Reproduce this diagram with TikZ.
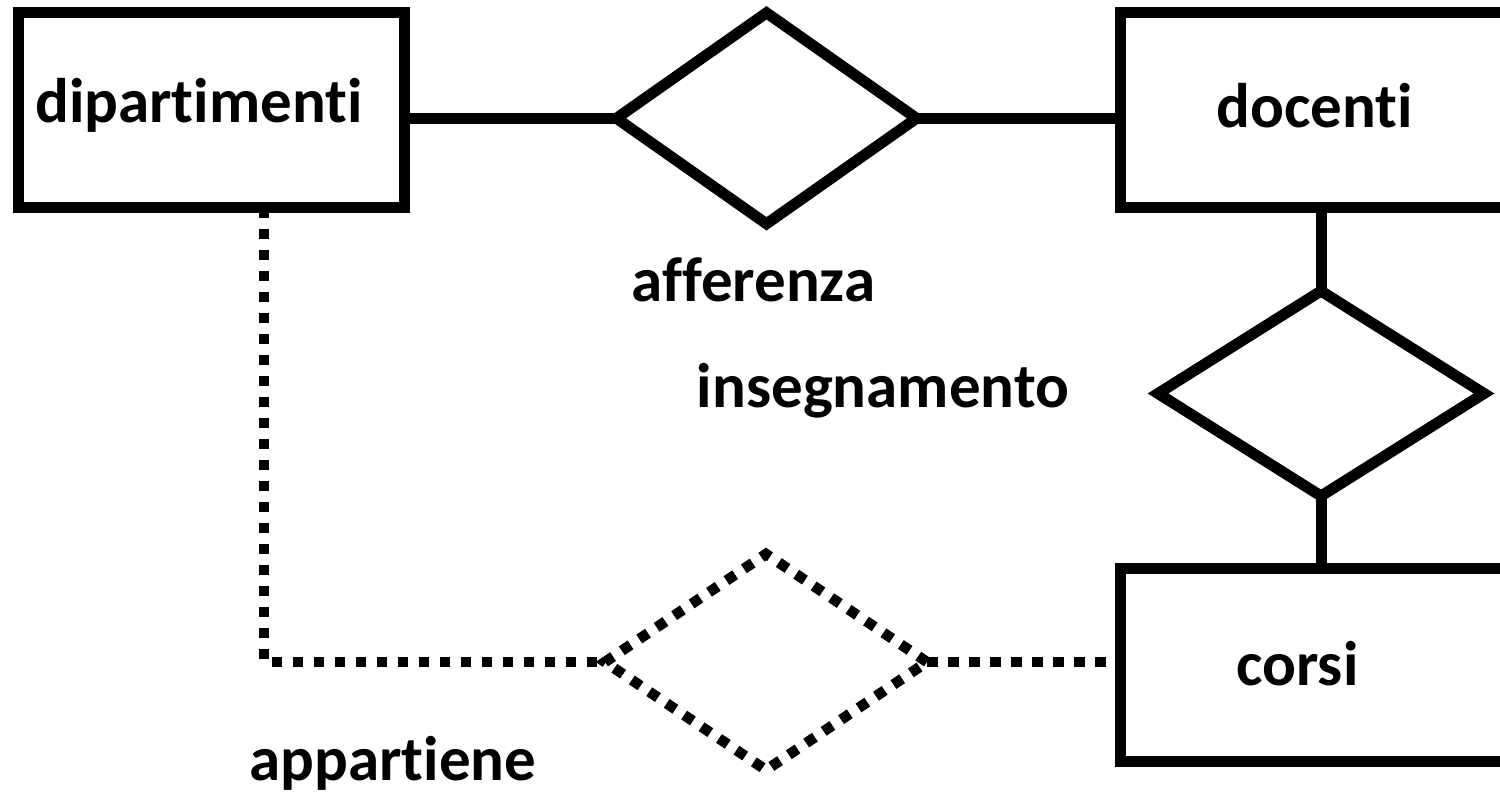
\documentclass[tikz,border=0pt]{standalone}
\usepackage{fontspec}
\setmainfont{Carlito}[Ligatures={NoCommon,NoRequired,NoContextual}]
\usetikzlibrary{shapes.geometric}
\begin{document}
\begin{tikzpicture}[x=1bp,y=-1bp,
  every node/.style={inner sep=0pt,outer sep=0pt},
  ln/.style={line width=11bp},
  dotln/.style={line width=10.5bp,dash pattern=on 10.5bp off 10.5bp},
  entity/.style={draw,ln,rectangle},
  rel/.style={draw,diamond},
  lbl/.style={anchor=base,font=\fontsize{63bp}{70bp}\selectfont\bfseries}]
\clip (0,0) rectangle (1500,801);
\useasboundingbox (0,0) rectangle (1500,801);
% entities
\node[entity,minimum width=386.2bp,minimum height=195bp] (dip) at (211.6,110.3) {};
\node[entity,minimum width=419.5bp,minimum height=194.7bp] (doc) at (1330.25,110.15) {};
\node[entity,minimum width=419.5bp,minimum height=193.7bp] (cor) at (1330.25,664.85) {};
% relationships
\node[rel,ln,minimum width=300bp,minimum height=211bp] (aff) at (766.5,118.3) {};
\node[rel,ln,minimum width=326bp,minimum height=205bp] (ins) at (1321,393.5) {};
\node[rel,dotln,minimum width=322bp,minimum height=216bp] (app) at (766,662) {};
% labels
\node[lbl] (tdip) at (199,122) {dipartimenti};
\node[lbl] (tdoc) at (1314.5,127) {docenti};
\node[lbl] (tcor) at (1297.5,685) {corsi};
\node[lbl] (taff) at (753.5,301.7) {afferenza};
\node[lbl] (tins) at (883,407) {insegnamento};
\node[lbl] (tapp) at (393,780) {appartiene};
% connectors
\draw[ln] (aff.west) -- (aff.west -| dip.east);
\draw[ln] (aff.east) -- (aff.east -| doc.west);
\draw[ln] (ins.north) -- (ins.north |- doc.south);
\draw[ln] (ins.south) -- (ins.south |- cor.north);
\coordinate (corner) at (264,662);
\draw[dotln] (corner |- dip.south) -- (corner) -- (app.west);
\draw[dotln] (app.east) -- (app.east -| cor.west);
\end{tikzpicture}
\end{document}
